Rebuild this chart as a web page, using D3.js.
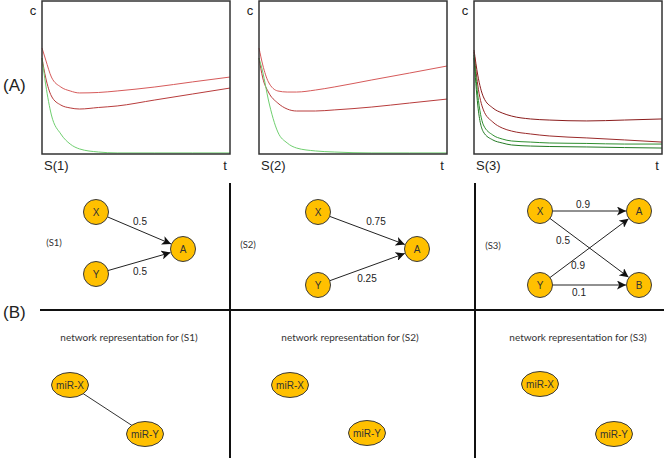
<!DOCTYPE html>
<html><head><meta charset="utf-8">
<script src="https://cdn.jsdelivr.net/npm/d3@7"></script>
<style>body{margin:0;background:#fff}svg{display:block}</style>
</head><body>
<svg id="c" width="664" height="458"></svg>
<script>
// ---- data ----
const tVals = [0, 2, 5, 10, 15, 20, 30, 40, 60, 80, 100];
const panelNames = ["S(1)", "S(2)", "S(3)"];
const s1Upper = [0.693, 0.614, 0.503, 0.438, 0.412, 0.399, 0.402, 0.412, 0.438, 0.471, 0.503];
const s1Lower = [0.627, 0.497, 0.379, 0.320, 0.301, 0.294, 0.304, 0.314, 0.353, 0.392, 0.431];
const s1Green = [0.627, 0.451, 0.255, 0.131, 0.065, 0.033, 0.013, 0.007, 0.007, 0.007, 0.007];
const s2Upper = [0.693, 0.582, 0.471, 0.412, 0.405, 0.405, 0.418, 0.438, 0.484, 0.529, 0.575];
const s2Lower = [0.627, 0.497, 0.405, 0.333, 0.294, 0.281, 0.281, 0.288, 0.307, 0.333, 0.359];
const s2Green = [0.627, 0.536, 0.353, 0.144, 0.072, 0.039, 0.020, 0.013, 0.007, 0.007, 0.007];
const s3Red1  = [0.680, 0.516, 0.373, 0.301, 0.268, 0.248, 0.229, 0.222, 0.216, 0.222, 0.229];
const s3Red2  = [0.667, 0.451, 0.288, 0.209, 0.170, 0.150, 0.131, 0.118, 0.105, 0.092, 0.078];
const s3Green1= [0.647, 0.386, 0.190, 0.124, 0.098, 0.085, 0.078, 0.072, 0.069, 0.065, 0.065];
const s3Green2= [0.627, 0.320, 0.144, 0.092, 0.072, 0.059, 0.052, 0.049, 0.046, 0.042, 0.039];

const edgeWeights1 = [["X","A","0.5"],["Y","A","0.5"]];
const edgeWeights2 = [["X","A","0.75"],["Y","A","0.25"]];
const edgeWeights3 = [["X","A","0.9"],["X","B","0.5"],["Y","A","0.9"],["Y","B","0.1"]];
const netTitles = ["network representation for (S1)","network representation for (S2)","network representation for (S3)"];
const mirEdges = [[["miR-X","miR-Y"]],[],[]];

// ---- layout ----
const svg = d3.select("#c");
const panels = [
  {x0:42, series:[[s1Upper,"#d65a5a"],[s1Lower,"#b83c3c"],[s1Green,"#6fcf6f"]]},
  {x0:259, series:[[s2Upper,"#d65a5a"],[s2Lower,"#b83c3c"],[s2Green,"#6fcf6f"]]},
  {x0:474, series:[[s3Red1,"#8a1c1c"],[s3Red2,"#9a2a2a"],[s3Green1,"#2f8f2f"],[s3Green2,"#237a23"]]}
];
const pw = 188, pTop = 1, pBottom = 154;
const y = d3.scaleLinear().domain([0,1]).range([pBottom, pTop]);
panels.forEach((p,i)=>{
  const x = d3.scaleLinear().domain([0,100]).range([p.x0, p.x0+pw]);
  const line = d3.line().x((d,j)=>x(tVals[j])).y(d=>y(d)).curve(d3.curveMonotoneX);
  p.series.forEach(([vals,col])=>{
    svg.append("path").attr("d",line(vals)).attr("fill","none").attr("stroke",col).attr("stroke-width",1);
  });
  svg.append("rect").attr("x",p.x0).attr("y",pTop).attr("width",pw).attr("height",pBottom-pTop)
     .attr("fill","none").attr("stroke","#333").attr("stroke-width",1.5);
  svg.append("text").attr("x",p.x0-9).attr("y",15).text("c")
     .attr("font-family","Liberation Sans, Arial").attr("font-size",13).attr("fill","#222").attr("text-anchor","middle");
  svg.append("text").attr("x",p.x0+2).attr("y",170).text(panelNames[i])
     .attr("font-family","Liberation Sans, Arial").attr("font-size",13).attr("fill","#222");
  svg.append("text").attr("x",p.x0+pw-5).attr("y",170).text("t")
     .attr("font-family","Liberation Sans, Arial").attr("font-size",13).attr("fill","#222").attr("text-anchor","middle");
});
svg.append("text").attr("x",3).attr("y",91).text("(A)").attr("font-family","Liberation Sans, Arial").attr("font-size",17).attr("fill","#222");
svg.append("text").attr("x",3).attr("y",318).text("(B)").attr("font-family","Liberation Sans, Arial").attr("font-size",17).attr("fill","#222");

// grid lines
svg.append("line").attr("x1",40).attr("x2",664).attr("y1",310).attr("y2",310).attr("stroke","#111").attr("stroke-width",2);
[230,475].forEach(xx=>svg.append("line").attr("x1",xx).attr("x2",xx).attr("y1",183).attr("y2",458).attr("stroke","#111").attr("stroke-width",2));

// arrow marker
svg.append("defs").append("marker").attr("id","arr").attr("viewBox","0 0 10 10").attr("refX",10).attr("refY",5)
  .attr("markerWidth",9).attr("markerHeight",9).attr("markerUnits","userSpaceOnUse").attr("orient","auto")
  .append("path").attr("d","M0,0 L10,5 L0,10 L2.5,5 Z").attr("fill","#111");

const nets = [
  {label:"(S1)", lx:54, ly:246, nodes:{X:[96,212],Y:[96,274],A:[183,249]}, edges:edgeWeights1,
   lab:[[140,225],[140,275]]},
  {label:"(S2)", lx:248, ly:248, nodes:{X:[318,212],Y:[318,285],A:[417,249]}, edges:edgeWeights2,
   lab:[[376,225],[367,282]]},
  {label:"(S3)", lx:493, ly:249, nodes:{X:[540,211],Y:[540,285],A:[639,211],B:[639,285]}, edges:edgeWeights3,
   lab:[[583,208],[563,244],[578,269],[579,296]]}
];
const R = 12.5;
nets.forEach(n=>{
  svg.append("text").attr("x",n.lx).attr("y",n.ly).text(n.label).attr("font-family","Lato, Open Sans").attr("font-size",9.5).attr("fill","#333").attr("text-anchor","middle");
  n.edges.forEach(([a,b,w],k)=>{
    const [x1,y1]=n.nodes[a],[x2,y2]=n.nodes[b];
    const dx=x2-x1, dy=y2-y1, L=Math.hypot(dx,dy);
    svg.append("line").attr("x1",x1+dx/L*R).attr("y1",y1+dy/L*R).attr("x2",x2-dx/L*(R+0.5)).attr("y2",y2-dy/L*(R+0.5))
      .attr("stroke","#222").attr("stroke-width",1).attr("marker-end","url(#arr)");
    svg.append("text").attr("x",n.lab[k][0]).attr("y",n.lab[k][1]).text(w).attr("font-family","Liberation Sans, Arial")
      .attr("font-size",10).attr("fill","#222").attr("text-anchor","middle");
  });
  Object.entries(n.nodes).forEach(([k,[cx,cy]])=>{
    svg.append("circle").attr("cx",cx).attr("cy",cy).attr("r",R).attr("fill","#FFC000").attr("stroke","#3a3a3a").attr("stroke-width",1);
    svg.append("text").attr("x",cx).attr("y",cy+3.5).text(k).attr("font-family","Liberation Sans, Arial").attr("font-size",10)
      .attr("fill","#333").attr("text-anchor","middle");
  });
});

// network representations
const mir = [
  {tx:129, nodes:{"miR-X":[70,385],"miR-Y":[145,434]}},
  {tx:350, nodes:{"miR-X":[290,385],"miR-Y":[367,433]}},
  {tx:578, nodes:{"miR-X":[540,384],"miR-Y":[614,434]}}
];
mir.forEach((m,i)=>{
  svg.append("text").attr("x",m.tx).attr("y",341).text(netTitles[i]).attr("font-family","Lato, Open Sans")
    .attr("font-size",10).attr("fill","#333").attr("text-anchor","middle");
  mirEdges[i].forEach(([a,b])=>{
    svg.append("line").attr("x1",m.nodes[a][0]).attr("y1",m.nodes[a][1]).attr("x2",m.nodes[b][0]).attr("y2",m.nodes[b][1])
      .attr("stroke","#333").attr("stroke-width",1);
  });
  Object.entries(m.nodes).forEach(([k,[cx,cy]])=>{
    svg.append("ellipse").attr("cx",cx).attr("cy",cy).attr("rx",18.5).attr("ry",12.5).attr("fill","#FFC000").attr("stroke","#3a3a3a").attr("stroke-width",1);
    svg.append("text").attr("x",cx).attr("y",cy+3.5).text(k).attr("font-family","Liberation Sans, Arial").attr("font-size",10)
      .attr("fill","#333").attr("text-anchor","middle");
  });
});
</script>
</body></html>
